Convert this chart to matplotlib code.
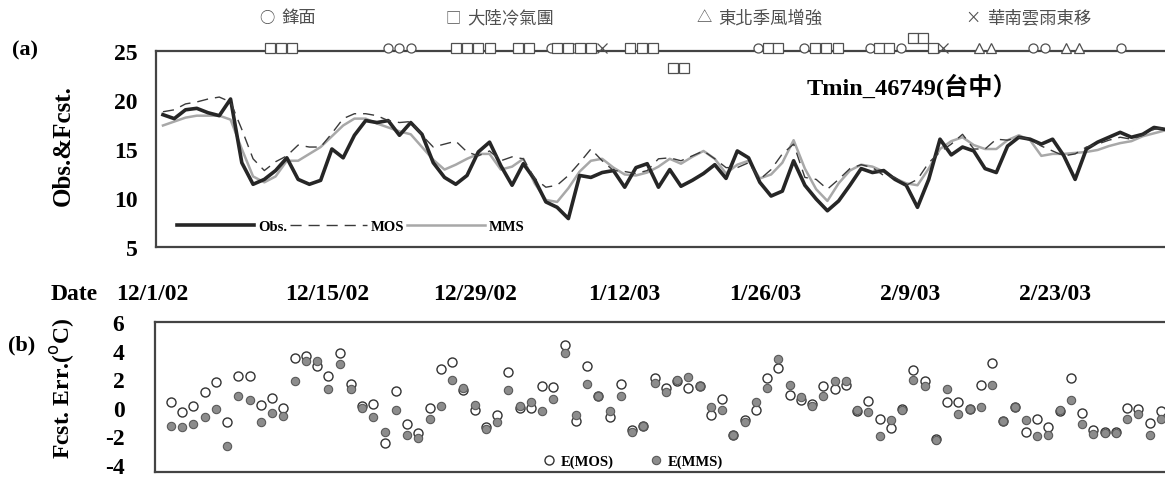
import matplotlib.pyplot as plt
import numpy as np

plt.rcParams['axes.unicode_minus'] = False
SERIF = ['Liberation Serif', 'DejaVu Serif']
CJK = ['Noto Sans CJK TC', 'DejaVu Sans']

# ---- data ----
days = np.arange(90)
obs = [18.5, 18.1, 19.0, 19.15, 18.7, 18.4, 20.1, 13.6, 11.4, 11.9,
       12.8, 14.1, 11.9, 11.4, 11.8, 15.0, 14.1, 16.4, 17.9, 17.7,
       17.9, 16.4, 17.7, 16.5, 13.6, 12.1, 11.4, 12.3, 14.7, 15.7,
       13.3, 11.3, 13.5, 11.9, 9.6, 9.05, 7.9, 12.3, 12.1, 12.6,
       12.8, 11.1, 13.1, 13.5, 11.1, 12.9, 11.2, 11.8, 12.5, 13.4,
       12.0, 14.8, 14.1, 11.6, 10.2, 10.7, 13.8, 11.3, 9.9, 8.7,
       9.7, 11.3, 13.0, 12.6, 12.8, 11.9, 11.3, 9.05, 11.9, 16.0,
       14.4, 15.2, 14.8, 13.0, 12.6, 15.3, 16.2, 16.0, 15.5, 16.0,
       14.3, 11.9, 15.0, 15.7, 16.2, 16.7, 16.2, 16.5, 17.2, 17.0]
mos = [18.8, 19.0, 19.6, 19.8, 20.1, 20.3, 19.8, 17.0, 14.0, 12.8,
       13.7, 14.3, 15.4, 15.2, 15.2, 16.6, 18.1, 18.6, 18.6, 18.4,
       17.9, 17.7, 17.8, 16.4, 15.2, 15.5, 15.8, 14.7, 14.3, 14.8,
       13.8, 14.2, 14.0, 12.0, 11.1, 11.3, 12.3, 13.6, 15.0, 13.8,
       12.8, 12.7, 12.5, 12.8, 14.0, 14.1, 13.8, 14.3, 14.8, 14.0,
       13.1, 13.1, 13.6, 11.9, 12.9, 14.5, 15.5, 12.1, 11.9, 10.9,
       11.9, 13.0, 13.4, 13.1, 12.3, 12.1, 11.3, 11.9, 13.6, 14.7,
       15.5, 16.5, 15.0, 15.0, 16.0, 15.9, 16.2, 16.0, 15.3, 14.8,
       14.3, 14.5, 15.2, 15.5, 15.9, 16.2, 16.0, 16.4, 17.0, 17.2]
mms = [17.4, 17.8, 18.2, 18.4, 18.4, 18.4, 18.0, 15.0, 12.2, 11.6,
       12.2, 13.8, 13.8, 14.5, 15.2, 16.3, 17.4, 18.1, 18.1, 17.6,
       17.2, 16.8, 16.5, 15.2, 13.9, 12.9, 13.4, 14.0, 14.5, 14.5,
       12.9, 13.2, 14.0, 11.5, 9.8, 9.6, 11.0, 12.7, 13.8, 14.0,
       13.1, 12.4, 12.3, 12.6, 13.2, 14.0, 13.5, 14.2, 14.8, 14.0,
       12.5, 13.4, 13.8, 12.0, 12.4, 13.6, 15.9, 13.0, 10.9, 9.7,
       11.5, 12.8, 13.4, 13.2, 12.7, 12.0, 11.5, 11.3, 13.0, 15.0,
       15.8, 16.2, 15.4, 15.0, 15.0, 15.9, 16.4, 15.9, 14.3, 14.5,
       14.5, 14.6, 14.7, 14.9, 15.3, 15.6, 15.8, 16.3, 16.6, 16.9]

err_days = np.arange(89)
err_mos = [0.37, -0.32, 0.14, 1.08, 1.78, -1.02, 2.24, 2.24, 0.21, 0.68,
           -0.02, 3.48, 3.65, 2.89, 2.24, 3.83, 1.66, 0.14, 0.26, -2.47,
           1.19, -1.14, -1.79, -0.02, 2.71, 3.18, 1.26, -0.13, -1.35, -0.51,
           2.47, -0.05, -0.05, 1.55, 1.42, 4.41, -0.91, 2.89, 0.79, -0.68,
           1.66, -1.56, -1.25, 2.08, 1.40, 1.85, 1.40, 1.54, -0.53, 0.58,
           -1.88, -0.89, -0.18, 2.08, 2.81, 0.92, 0.52, 0.23, 1.52, 1.34,
           1.57, -0.20, 0.45, -0.76, -1.42, -0.07, 2.66, 1.84, -2.19, 0.40,
           0.40, -0.09, 1.61, 3.13, -0.93, 0.02, -1.70, -0.76, -1.35, -0.20,
           2.08, -0.34, -1.58, -1.67, -1.67, -0.02, -0.11, -1.05, -0.26]
err_mms = [-1.26, -1.37, -1.14, -0.68, -0.09, -2.65, 0.79, 0.56, -1.02, -0.37,
           -0.60, 1.89, 3.25, 3.29, 1.31, 3.06, 1.31, -0.05, -0.63, -1.68,
           -0.13, -1.89, -2.15, -0.79, 0.14, 1.97, 1.36, 0.21, -1.49, -0.97,
           1.26, 0.14, 0.37, -0.26, 0.61, 3.83, -0.51, 1.66, 0.79, -0.21,
           0.79, -1.68, -1.31, 1.76, 1.10, 1.92, 2.15, 1.52, 0.05, -0.18,
           -1.94, -1.00, 0.40, 1.40, 3.44, 1.57, 0.75, 0.12, 0.82, 1.84,
           1.84, -0.18, -0.30, -1.98, -0.89, -0.18, 1.92, 1.52, -2.28, 1.34,
           -0.42, -0.11, 0.05, 1.57, -0.95, 0.05, -0.89, -2.00, -1.89, -0.18,
           0.52, -1.12, -1.81, -1.75, -1.75, -0.76, -0.42, -1.94, -0.76]

# weather events drawn above panel (a)
front_days = [20, 21, 22, 34.5, 35.5, 36.5, 37.5, 52.8, 56.9, 62.8, 65.5, 77.3, 78.3, 85.1]
cold_days = [9.5, 10.5, 11.5, 26, 27, 28, 29, 31.5, 32.5, 35, 36, 37, 38,
             41.5, 42.5, 43.5, 45.3, 46.3, 53.7, 54.6, 57.9, 58.9, 59.9,
             63.6, 64.5, 66.6, 67.5, 68.4]
cold_level = [25.3] * 16 + [23.3, 23.3] + [25.3] * 7 + [26.3, 26.3, 25.3]
monsoon_days = [72.5, 73.5, 80.2, 81.3]
rain_days = [39, 69.3]

event_names = ['鋒面', '大陸冷氣團', '東北季風增強', '華南雲雨東移']
event_symbols = ['○', '□', '△', '×']

date_labels = ['12/1/02', '12/15/02', '12/29/02', '1/12/03', '1/26/03', '2/9/03', '2/23/03']

W, H = 1165, 481


def fx(x):
    return x / W


def fy(y):
    return 1 - y / H


fig = plt.figure(figsize=(W / 100, H / 100), dpi=100)

# ---------------- panel (a) ----------------
ax1 = fig.add_axes([fx(156), fy(248), fx(1165 - 156), (248 - 52) / H])
ax1.plot(days, obs, color='#262626', lw=2.6, label='Obs.', zorder=3)
ax1.plot(days, mos, color='#3a3a3a', lw=1.0, ls=(0, (8, 5)), label='MOS', zorder=4)
ax1.plot(days, mms, color='#a8a8a8', lw=1.8, label='MMS', zorder=2)
ax1.set_xlim(-0.62, 88.98)
ax1.set_ylim(5, 25)
ax1.set_yticks([5, 10, 15, 20, 25])
ax1.set_xticks([])
ax1.tick_params(axis='y', length=0, pad=13)
for lab in ax1.get_yticklabels():
    lab.set_fontfamily(SERIF)
    lab.set_fontweight('bold')
    lab.set_fontsize(17)
for s in ['left', 'top', 'bottom']:
    ax1.spines[s].set_color('#444444')
    ax1.spines[s].set_linewidth(1.6)
ax1.spines['right'].set_visible(False)

ax1.legend(loc='center left', bbox_to_anchor=(0.021, 0.107), ncol=3,
           frameon=False, handlelength=5.3, handletextpad=0.25,
           columnspacing=0.2, borderpad=0, borderaxespad=0,
           prop={'family': SERIF, 'weight': 'bold', 'size': 10.5})

ax1.text(0.749, 0.82, 'Tmin_46749(台中）', transform=ax1.transAxes, ha='center', va='center',
         fontsize=17.5, fontweight='bold', family=['Liberation Serif', 'Noto Sans CJK TC'])

# event markers on top frame
mk = dict(ls='none', mfc='white', mec='#505050', mew=0.9, clip_on=False, zorder=6)
ax1.plot(front_days, [25.3] * len(front_days), marker='o', ms=6.5, **mk)
ax1.plot(cold_days, cold_level, marker='s', ms=7.5, **mk)
ax1.plot(monsoon_days, [25.3] * len(monsoon_days), marker='^', ms=7.5, **mk)
ax1.plot(rain_days, [25.3] * len(rain_days), marker='x', ms=7, ls='none',
         color='#505050', mew=0.9, clip_on=False, zorder=6)

# event legend row
sym_x = [267, 453, 704, 973]
for sx, sym, name in zip(sym_x, event_symbols, event_names):
    fig.text(fx(sx), fy(18), sym, ha='center', va='center', fontsize=11,
             color='#505050', family=CJK)
    fig.text(fx(sx + 14), fy(18), name, ha='left', va='center', fontsize=12.5,
             color='#505050', family=CJK, fontweight='light')

# ---------------- panel (b) ----------------
ax2 = fig.add_axes([fx(155), fy(473), fx(1165 - 155), (473 - 323) / H])
ax2.plot(err_days, err_mos, ls='none', marker='o', ms=6.5, mfc='white', mec='#333333',
         mew=1.0, label='E(MOS)', zorder=3)
ax2.plot(err_days, err_mms, ls='none', marker='o', ms=6, mfc='#8c8c8c', mec='#5a5a5a',
         mew=0.8, label='E(MMS)', zorder=4)
ax2.set_xlim(-1.42, 88.36)
ax2.set_ylim(-4.5, 6)
ax2.set_yticks([-4, -2, 0, 2, 4, 6])
ax2.set_xticks([])
ax2.tick_params(axis='y', length=0, pad=22)
for lab in ax2.get_yticklabels():
    lab.set_fontfamily(SERIF)
    lab.set_fontweight('bold')
    lab.set_fontsize(17)
for s in ['left', 'top', 'bottom']:
    ax2.spines[s].set_color('#444444')
    ax2.spines[s].set_linewidth(1.6)
ax2.spines['right'].set_visible(False)
ax2.legend(loc='center left', bbox_to_anchor=((543 - 155) / 1010, 0.07), ncol=2,
           frameon=False, handlelength=0.8, handletextpad=0.4, columnspacing=2.5,
           borderpad=0, borderaxespad=0,
           prop={'family': SERIF, 'weight': 'bold', 'size': 10.5})

# ---------------- labels ----------------
lab_kw = dict(family=SERIF, fontweight='bold')
fig.text(fx(25), fy(50), '(a)', ha='center', va='center', fontsize=16, **lab_kw)
fig.text(fx(22), fy(345), '(b)', ha='center', va='center', fontsize=16, **lab_kw)
fig.text(fx(63), fy(146), 'Obs.&Fcst.', ha='center', va='center', rotation=90, fontsize=18, **lab_kw)
fig.text(fx(63), fy(388), r'Fcst. Err.($^{\rm o}$C)', ha='center', va='center', rotation=90,
         fontsize=17, **lab_kw)
fig.text(fx(74), fy(294), 'Date', ha='center', va='center', fontsize=17, **lab_kw)
date_px = [152, 327, 475, 624, 765, 910, 1055]
for dx, dl in zip(date_px, date_labels):
    fig.text(fx(dx), fy(294), dl, ha='center', va='center', fontsize=17, **lab_kw)

fig.savefig('out.png', dpi=100)
